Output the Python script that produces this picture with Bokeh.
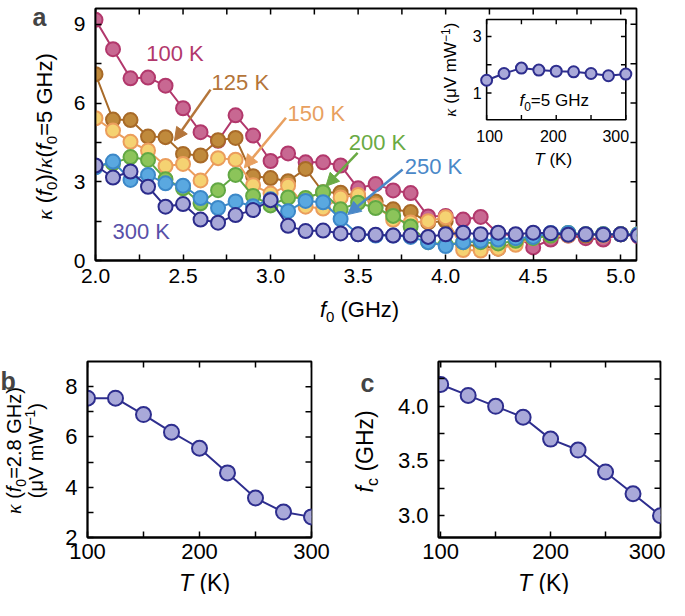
import math
from bokeh.plotting import figure
from bokeh.models import (Range1d, FixedTicker, Label, Arrow, NormalHead, PrintfTickFormatter)
from bokeh.layouts import column, row
from bokeh.embed import file_html
from bokeh.resources import INLINE
from bokeh.core.properties import value

# ---------------- data ----------------
f0_ghz = [2.0, 2.1, 2.2, 2.3, 2.4, 2.5, 2.6, 2.7, 2.8, 2.9, 3.0, 3.1, 3.2, 3.3, 3.4, 3.5,
          3.6, 3.7, 3.8, 3.9, 4.0, 4.1, 4.2, 4.3, 4.4, 4.5, 4.6, 4.7, 4.8, 4.9, 5.0, 5.1]
k100 = [9.17, 8.05, 6.94, 6.97, 6.66, 5.80, 4.89, 4.56, 5.53, 4.76, 3.79, 4.08, 3.74, 3.74, 3.62, 2.75,
        2.91, 2.67, 2.57, 1.68, 1.70, 1.56, 1.66, 1.02, 0.95, 0.50, 0.80, 0.95, 0.85, 0.80, 1.00, 0.92]
k125 = [7.10, 5.37, 5.35, 4.72, 4.70, 4.06, 4.00, 4.58, 4.67, 3.21, 3.14, 3.02, 3.49, 2.60, 2.58, 2.45,
        2.25, 1.95, 1.85, 1.45, 1.50, 0.60, 0.55, 0.45, 0.70, 0.90, 0.95, 1.00, 0.95, 1.00, 1.00, 1.00]
k150 = [5.42, 4.95, 4.52, 4.19, 3.60, 3.68, 3.05, 3.90, 3.84, 2.87, 2.55, 2.85, 2.05, 1.98, 2.40, 2.50,
        2.10, 1.55, 1.45, 1.50, 1.65, 0.40, 0.38, 0.45, 0.60, 0.85, 0.95, 0.95, 1.00, 0.95, 1.00, 1.00]
k200 = [3.60, 3.70, 3.94, 3.83, 3.10, 2.75, 2.18, 2.68, 3.26, 2.46, 2.10, 2.40, 2.38, 2.60, 1.95, 2.20,
        2.00, 1.70, 1.30, 0.70, 0.60, 0.70, 0.70, 0.65, 0.75, 0.85, 0.95, 1.05, 1.00, 1.00, 1.00, 1.00]
k250 = [3.55, 3.77, 3.07, 3.26, 2.94, 2.85, 2.38, 2.00, 2.25, 2.07, 2.33, 1.88, 2.27, 2.22, 1.58, 1.00,
        0.95, 0.95, 0.90, 0.70, 0.55, 0.70, 0.75, 0.80, 0.85, 0.90, 1.05, 1.05, 1.00, 1.00, 1.00, 1.00]
k300 = [3.62, 3.16, 3.39, 2.81, 2.05, 2.15, 1.56, 1.44, 1.73, 1.92, 2.30, 1.32, 1.12, 1.14, 1.03, 1.00,
        0.98, 0.95, 0.95, 0.90, 1.00, 1.06, 1.00, 1.06, 1.00, 1.06, 1.04, 0.98, 1.00, 0.98, 1.00, 0.95]
series_labels = ["100 K", "125 K", "150 K", "200 K", "250 K", "300 K"]

temps_k = [100, 125, 150, 175, 200, 225, 250, 275, 300]
kappa_5ghz = [1.45, 1.69, 1.88, 1.81, 1.77, 1.75, 1.69, 1.61, 1.67]
kappa_28ghz = [7.54, 7.54, 6.89, 6.19, 5.55, 4.57, 3.57, 3.01, 2.82]
fc_ghz = [4.2, 4.1, 4.0, 3.9, 3.7, 3.6, 3.4, 3.2, 3.0]

# ---------------- styles ----------------
SANS = "Liberation Sans"
SERIF = "Liberation Serif"
EDGE = ["#b2386c", "#a86a28", "#eb9d5c", "#62a844", "#3c88c8", "#2c2c8c"]
FILL = ["#c86892", "#c08a3c", "#f5d272", "#8cc45a", "#5aa8e0", "#a8a8d8"]
TXT = ["#b2386c", "#b4753a", "#e8a060", "#6aaa44", "#4a88c8", "#5850a8"]
NAVY, LAV = "#2e2e8e", "#a9a9d9"

ARIAL = {' ': 278, '(': 333, ')': 333, '/': 278, '=': 584, '.': 278, 'G': 778, 'H': 722,
         'z': 500, 'K': 667, 'V': 667, 'm': 833, 'W': 944, 'f': 278, 'T': 611, 'c': 500,
         'μ': 576, '−': 584, 'κ': 480}


def tw(s, size):
    return sum(ARIAL.get(ch, 556) for ch in s) * size / 1000.0


def compose(fig, x, y, parts, xo=0, yo=0, vertical=False, color="black"):
    """Place a run of differently styled text pieces, visually centred on (x, y)."""
    total = sum(tw(t, s) for t, s, _, _, _ in parts)
    pos = -total / 2.0
    for t, s, style, font, shift in parts:
        core = t.strip(" ")
        lead = len(t) - len(t.lstrip(" "))
        pos += tw(" " * lead, s)
        kw = dict(x=x, y=y, text=core, text_font=font, text_font_size=f"{s}px", text_font_style=style,
                  text_align="left", text_baseline="middle", text_color=color)
        if vertical:
            lab = Label(x_offset=xo - shift, y_offset=yo + pos, angle=math.pi / 2, **kw)
        else:
            lab = Label(x_offset=xo + pos, y_offset=yo + shift, **kw)
        fig.add_layout(lab)
        pos += tw(t[lead:], s)


def sub_of(size):
    return int(round(size * 0.7)), -round(size * 0.33)


def sup_of(size):
    return int(round(size * 0.7)), round(size * 0.3)


def label_fig(w, h):
    """A blank strip whose frame fills its canvas; coordinates are pixels (y up)."""
    return figure(width=w, height=h, x_range=Range1d(0, w), y_range=Range1d(0, h),
                  x_axis_type=None, y_axis_type=None, output_backend="svg", toolbar_location=None,
                  min_border=0, min_border_left=0, min_border_right=0, min_border_top=0,
                  min_border_bottom=0, outline_line_color=None)


def letter(fig, text, x, y, align="center"):
    fig.add_layout(Label(x=x, y=y, text=text, text_font=SANS, text_font_size="25px",
                         text_font_style="bold", text_align=align, text_baseline="middle"))


def style_axes(fig, xt, xm, yt, ym, fs, xstand, ystand, xfmt=None, yfmt=None):
    fig.grid.visible = False
    fig.outline_line_color = "black"
    fig.outline_line_width = 1.8
    for ax in fig.xaxis:
        ax.ticker = FixedTicker(ticks=xt, minor_ticks=xm)
        ax.major_label_standoff = xstand
        if xfmt:
            ax.formatter = PrintfTickFormatter(format=xfmt)
    for ax in fig.yaxis:
        ax.ticker = FixedTicker(ticks=yt, minor_ticks=ym)
        ax.major_label_standoff = ystand
        if yfmt:
            ax.formatter = PrintfTickFormatter(format=yfmt)
    for ax in fig.xaxis + fig.yaxis:
        ax.major_tick_in = 6
        ax.major_tick_out = 0
        ax.minor_tick_in = 6
        ax.minor_tick_out = 0
        ax.major_tick_line_width = 1.5
        ax.minor_tick_line_width = 1.5
        ax.axis_line_width = 1.8
        ax.major_label_text_font = SANS
        ax.major_label_text_font_size = f"{fs}px"
        ax.major_label_text_color = "black"
    # mirrored inward ticks on top and right: dashes centred on the frame edge
    xr, yr = fig.x_range, fig.y_range
    allx = list(xt) + list(xm)
    ally = list(yt) + list(ym)
    fig.scatter(allx, [yr.end] * len(allx), marker="dash", size=12, angle=math.pi / 2,
                line_color="black", line_width=1.5)
    fig.scatter([xr.end] * len(ally), ally, marker="dash", size=12,
                line_color="black", line_width=1.5)


# ---------------- panel a ----------------
pa = figure(width=595, height=293, x_range=Range1d(2.0, 5.09), y_range=Range1d(0, 9.6),
            output_backend="svg", toolbar_location=None, min_border_left=25, min_border_right=29,
            min_border_top=8, min_border_bottom=33)
style_axes(pa, [2.0, 2.5, 3.0, 3.5, 4.0, 4.5, 5.0], [2.25, 2.75, 3.25, 3.75, 4.25, 4.75],
           [0, 3, 6, 9], [1.5, 4.5, 7.5], 21, 8, 10, xfmt="%.1f")

for ys, e, fcol in zip([k100, k125, k150, k200, k250, k300], EDGE, FILL):
    pa.line(f0_ghz, ys, line_color=e, line_width=2)
    pa.scatter(f0_ghz, ys, size=14, fill_color=fcol, line_color=e, line_width=2)

lab_pos = [(2.29, 7.88), (2.663, 6.77), (3.097, 5.59), (3.446, 4.48), (3.766, 3.57), (2.097, 1.09)]
for (lx, ly), t, c in zip(lab_pos, series_labels, TXT):
    pa.add_layout(Label(x=lx, y=ly, text=t, text_color=c, text_font=SANS, text_font_size="22px",
                        text_baseline="middle", text_align="left"))
arrows = [(1, 2.657, 6.51, 2.451, 4.56), (2, 3.088, 5.44, 2.85, 3.53),
          (3, 3.497, 4.10, 3.316, 2.83), (4, 3.754, 3.47, 3.44, 1.75)]
for i, xs, ys_, xe, ye in arrows:
    pa.add_layout(Arrow(x_start=xs, y_start=ys_, x_end=xe, y_end=ye, line_color=TXT[i], line_width=2.5,
                        end=NormalHead(size=13, fill_color=TXT[i], line_color=TXT[i], line_width=1)))

# ---------------- inset ----------------
INSET_X = (4.234, 5.029)
INSET_Y = (5.36, 9.18)
ix = Range1d(100, 300)
iy = Range1d(0.05, 3.6)
ins = pa.subplot(x_source=ix, y_source=iy, x_target=Range1d(*INSET_X), y_target=Range1d(*INSET_Y))
ins.quad(left=[ix.start], right=[ix.end], bottom=[iy.start], top=[iy.end], fill_color="white",
         line_color="black", line_width=1.6)
itx = [100, 150, 200, 250, 300]
ity = [1, 2, 3]
dy = 0.17
dx = 7
ins.segment(x0=itx, y0=[iy.start] * 5, x1=itx, y1=[iy.start + dy] * 5, line_color="black", line_width=1.4)
ins.segment(x0=itx, y0=[iy.end] * 5, x1=itx, y1=[iy.end - dy] * 5, line_color="black", line_width=1.4)
ins.segment(x0=[ix.start] * 3, y0=ity, x1=[ix.start + dx] * 3, y1=ity, line_color="black", line_width=1.4)
ins.segment(x0=[ix.end] * 3, y0=ity, x1=[ix.end - dx] * 3, y1=ity, line_color="black", line_width=1.4)
ins.line(temps_k, kappa_5ghz, line_color=NAVY, line_width=2)
ins.scatter(temps_k, kappa_5ghz, size=11, fill_color=LAV, line_color=NAVY, line_width=2)
ins.text(x=[100, 200, 300], y=[iy.start] * 3, text=["100", "200", "300"], text_align="center",
         text_baseline="middle", y_offset=16, x_offset=[3, -3, -10], text_font=value(SANS),
         text_font_size="16px", text_color="black")
ins.text(x=[100, 100], y=[1, 3], text=["1", "3"], text_align="right", text_baseline="middle",
         x_offset=-5, text_font=value(SANS), text_font_size="16px", text_color="black")
ifs = 17
iss, ish = sub_of(ifs)
ips, iph = sup_of(ifs)
imx = (INSET_X[0] + INSET_X[1]) / 2
imy = (INSET_Y[0] + INSET_Y[1]) / 2
compose(pa, imx, INSET_Y[0], [("T", ifs, "italic", SANS, 0), (" (K)", ifs, "normal", SANS, 0)], -3, -40)
compose(pa, imx, INSET_Y[0], [("f", ifs, "italic", SANS, 0), ("0", iss, "normal", SANS, ish),
                              ("=5 GHz", ifs, "normal", SANS, 0)], -2, 19)
compose(pa, INSET_X[0], imy, [("κ", ifs, "italic", SERIF, 0), (" (μV mW", ifs, "normal", SANS, 0),
                              ("−1", ips, "normal", SANS, iph),
                              (")", ifs, "normal", SANS, 0)], -36, 0, vertical=True)

# label strips for panel a
fs = 22
ss, sh = sub_of(fs)
ya = label_fig(70, 293)
compose(ya, 44, 144, [("κ", fs, "italic", SERIF, 0), (" (", fs, "normal", SANS, 0),
                      ("f", fs, "italic", SANS, 0), ("0", ss, "normal", SANS, sh),
                      (")/", fs, "normal", SANS, 0), ("κ", fs, "italic", SERIF, 0),
                      ("(", fs, "normal", SANS, 0), ("f", fs, "italic", SANS, 0),
                      ("0", ss, "normal", SANS, sh), ("=5 GHz)", fs, "normal", SANS, 0)],
        vertical=True)
letter(ya, "a", 39, 283)
xa = label_fig(665, 35)
compose(xa, 359, 19, [("f", fs, "italic", SANS, 0), ("0", ss, "normal", SANS, sh),
                      (" (GHz)", fs, "normal", SANS, 0)])

# ---------------- panel b ----------------
tfs = 22
bfs = 23
bss, bsh = sub_of(bfs)
lfs = 20
lss, lsh = sub_of(lfs)
lps, lph = sup_of(lfs)
pb = figure(width=273, height=241, x_range=Range1d(100, 300), y_range=Range1d(2, 9),
            output_backend="svg", toolbar_location=None, min_border_left=27, min_border_right=22,
            min_border_top=31, min_border_bottom=32)
style_axes(pb, [100, 200, 300], [150, 250], [2, 4, 6, 8], [3, 5, 7], tfs, 6, 10)
pb.line(temps_k, kappa_28ghz, line_color=NAVY, line_width=2)
pb.scatter(temps_k, kappa_28ghz, size=15, fill_color=LAV, line_color=NAVY, line_width=2)
yb = label_fig(60, 241)
compose(yb, 13, 119, [("κ", lfs, "italic", SERIF, 0), (" (", lfs, "normal", SANS, 0),
                      ("f", lfs, "italic", SANS, 0), ("0", lss, "normal", SANS, lsh),
                      ("=2.8 GHz)", lfs, "normal", SANS, 0)], vertical=True)
compose(yb, 35, 119, [("(μV mW", lfs, "normal", SANS, 0),
                      ("−1", lps, "normal", SANS, lph),
                      (")", lfs, "normal", SANS, 0)], vertical=True)
letter(yb, "b", 0, 214, align="left")
xb = label_fig(333, 25)
compose(xb, 204, 12, [("T", bfs, "italic", SANS, 0), (" (K)", bfs, "normal", SANS, 0)])

# ---------------- panel c ----------------
pc = figure(width=272, height=241, x_range=Range1d(98, 300), y_range=Range1d(2.8, 4.41),
            output_backend="svg", toolbar_location=None, min_border_left=45, min_border_right=5,
            min_border_top=33, min_border_bottom=32)
style_axes(pc, [100, 200, 300], [150, 250], [3.0, 3.5, 4.0], [3.25, 3.75, 4.25], tfs, 6, 10, yfmt="%.1f")
pc.line(temps_k, fc_ghz, line_color=NAVY, line_width=2)
pc.scatter(temps_k, fc_ghz, size=15, fill_color=LAV, line_color=NAVY, line_width=2)
yc = label_fig(60, 241)
compose(yc, 31, 118, [("f", bfs, "italic", SANS, 0), ("c", bss, "normal", SANS, bsh),
                      (" (GHz)", bfs, "normal", SANS, 0)], vertical=True)
letter(yc, "c", 34, 212)
xc = label_fig(332, 25)
compose(xc, 210, 12, [("T", bfs, "italic", SANS, 0), (" (K)", bfs, "normal", SANS, 0)])

layout = column(row(ya, pa), xa, row(yb, pb, yc, pc), row(xb, xc))
open("out.html", "w").write(file_html(layout, INLINE))
